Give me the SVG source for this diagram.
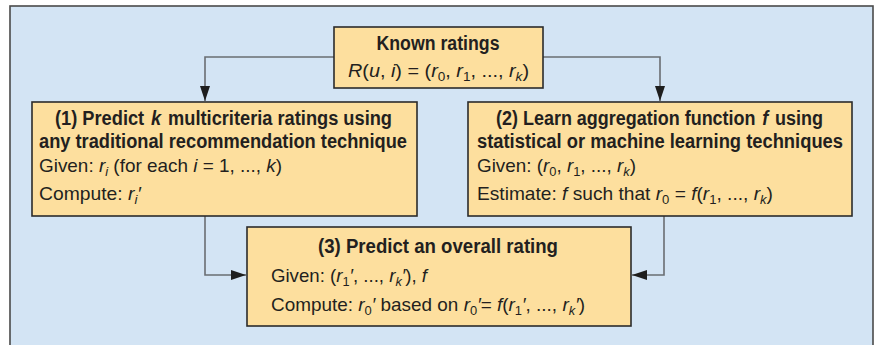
<svg xmlns="http://www.w3.org/2000/svg" width="876" height="345" viewBox="0 0 876 345">
  <defs>
    <style>
      .panel { fill: #d3e4f4; stroke: #4a4a4a; stroke-width: 1.6; }
      .box { fill: #fddf9e; stroke: #2b2b2b; stroke-width: 1.6; }
      .wire { fill: none; stroke: #6a6d72; stroke-width: 1.6; }
      text { font-family: "Liberation Sans", Arial, sans-serif; font-size: 19px; fill: #231f20; }
      .b { font-weight: bold; font-size: 20px; }
      .i { font-style: italic; }
      .s { font-size: 13px; }
    </style>
    <marker id="head" markerUnits="userSpaceOnUse" markerWidth="16" markerHeight="10" refX="15" refY="5" orient="auto">
      <path d="M0,0 L15,5 L0,10 Z" fill="#1e1e1e"/>
    </marker>
  </defs>

  <!-- background panel -->
  <rect class="panel" x="10" y="6" width="863" height="360"/>

  <!-- connectors -->
  <g id="connectors">
    <polyline class="wire" points="334,57 205,57 205,101" marker-end="url(#head)"/>
    <polyline class="wire" points="543,57 660,57 660,101" marker-end="url(#head)"/>
    <polyline class="wire" points="205,216 205,275 246,275" marker-end="url(#head)"/>
    <polyline class="wire" points="664,216 664,275 632,275" marker-end="url(#head)"/>
  </g>

  <!-- known ratings -->
  <g id="known">
    <rect class="box" x="334" y="27" width="209" height="61"/>
    <text class="b" x="438" y="50" text-anchor="middle" textLength="123" lengthAdjust="spacingAndGlyphs">Known ratings</text>
    <text x="348" y="77" textLength="181" lengthAdjust="spacingAndGlyphs"><tspan class="i">R</tspan>(<tspan class="i">u</tspan>, <tspan class="i">i</tspan>) = (<tspan class="i">r</tspan><tspan class="s" dy="4">0</tspan><tspan dy="-4">,  </tspan><tspan class="i">r</tspan><tspan class="s" dy="4">1</tspan><tspan dy="-4">, ..., </tspan><tspan class="i">r</tspan><tspan class="s i" dy="4">k</tspan><tspan dy="-4">)</tspan></text>
  </g>

  <!-- step 1 -->
  <g id="step1">
    <rect class="box" x="32" y="102" width="385" height="114"/>
    <text class="b" x="55" y="125" textLength="337" lengthAdjust="spacingAndGlyphs">(1) Predict <tspan class="i" dx="2">k</tspan><tspan dx="2"> multicriteria ratings using</tspan></text>
    <text class="b" x="39" y="148" textLength="368" lengthAdjust="spacingAndGlyphs">any traditional recommendation technique</text>
    <text x="39" y="172" textLength="243" lengthAdjust="spacingAndGlyphs">Given: <tspan class="i">r</tspan><tspan class="s i" dy="4">i</tspan><tspan dy="-4"> (for each </tspan><tspan class="i">i</tspan> = 1, ..., <tspan class="i">k</tspan>)</text>
    <text x="39" y="200" textLength="102" lengthAdjust="spacingAndGlyphs">Compute: <tspan class="i">r</tspan><tspan class="s i" dy="4">i</tspan><tspan class="i" dy="-4">′</tspan></text>
  </g>

  <!-- step 2 -->
  <g id="step2">
    <rect class="box" x="468" y="102" width="384" height="114"/>
    <text class="b" x="496" y="125" textLength="327" lengthAdjust="spacingAndGlyphs">(2) Learn aggregation function <tspan class="i" dx="2">f</tspan><tspan dx="2"> using</tspan></text>
    <text class="b" x="477" y="148" textLength="366" lengthAdjust="spacingAndGlyphs">statistical or machine learning techniques</text>
    <text x="477" y="172" textLength="159" lengthAdjust="spacingAndGlyphs">Given: (<tspan class="i">r</tspan><tspan class="s" dy="4">0</tspan><tspan dy="-4">, </tspan><tspan class="i">r</tspan><tspan class="s" dy="4">1</tspan><tspan dy="-4">, ..., </tspan><tspan class="i">r</tspan><tspan class="s i" dy="4">k</tspan><tspan dy="-4">)</tspan></text>
    <text x="477" y="200" textLength="296" lengthAdjust="spacingAndGlyphs">Estimate: <tspan class="i">f</tspan> such that <tspan class="i">r</tspan><tspan class="s" dy="4">0</tspan><tspan dy="-4"> = </tspan><tspan class="i">f</tspan>(<tspan class="i">r</tspan><tspan class="s" dy="4">1</tspan><tspan dy="-4">, ..., </tspan><tspan class="i">r</tspan><tspan class="s i" dy="4">k</tspan><tspan dy="-4">)</tspan></text>
  </g>

  <!-- step 3 -->
  <g id="step3">
    <rect class="box" x="247" y="227" width="384" height="99"/>
    <text class="b" x="318" y="253" textLength="240" lengthAdjust="spacingAndGlyphs">(3) Predict an overall rating</text>
    <text x="271" y="282" textLength="156" lengthAdjust="spacingAndGlyphs">Given: (<tspan class="i">r</tspan><tspan class="s" dy="4">1</tspan><tspan class="i" dy="-4">′</tspan>, ..., <tspan class="i">r</tspan><tspan class="s i" dy="4">k</tspan><tspan class="i" dy="-4">′</tspan>), <tspan class="i">f</tspan></text>
    <text x="271" y="311" textLength="314" lengthAdjust="spacingAndGlyphs">Compute: <tspan class="i">r</tspan><tspan class="s" dy="4">0</tspan><tspan class="i" dy="-4">′</tspan> based on <tspan class="i">r</tspan><tspan class="s" dy="4">0</tspan><tspan class="i" dy="-4">′</tspan>= <tspan class="i">f</tspan>(<tspan class="i">r</tspan><tspan class="s" dy="4">1</tspan><tspan class="i" dy="-4">′</tspan>, ..., <tspan class="i">r</tspan><tspan class="s i" dy="4">k</tspan><tspan class="i" dy="-4">′</tspan>)</text>
  </g>
</svg>
